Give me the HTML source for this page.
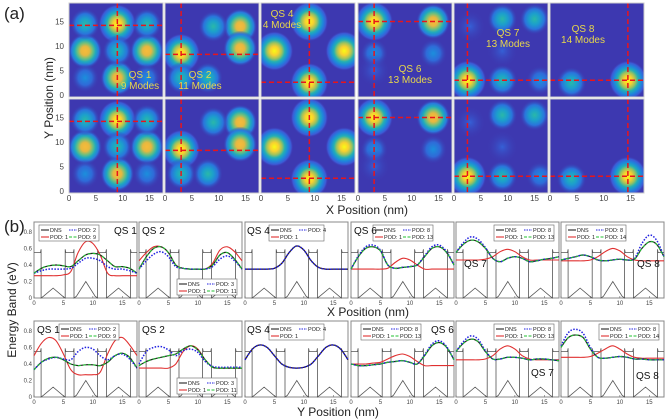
<!DOCTYPE html>
<html><head><meta charset="utf-8">
<style>
html,body{margin:0;padding:0;background:#fff;}
svg{display:block;font-family:"Liberation Sans",sans-serif;}
</style></head>
<body>
<svg id="fig" width="668" height="420" viewBox="0 0 668 420" xmlns="http://www.w3.org/2000/svg">
<defs>
<radialGradient id="g-hot"><stop offset="0" stop-color="#f9fb14"/><stop offset=".22" stop-color="#f8d030"/><stop offset=".4" stop-color="#9cc25e"/><stop offset=".55" stop-color="#22b0b4"/><stop offset=".72" stop-color="#1e86dc"/><stop offset=".88" stop-color="#3d5ad6"/><stop offset="1" stop-color="#3d38b0" stop-opacity="0"/></radialGradient>
<radialGradient id="g-warm"><stop offset="0" stop-color="#f7bb3a"/><stop offset=".25" stop-color="#e6b840"/><stop offset=".45" stop-color="#6cbf7e"/><stop offset=".62" stop-color="#1ea9be"/><stop offset=".8" stop-color="#2a7ade"/><stop offset="1" stop-color="#3d38b0" stop-opacity="0"/></radialGradient>
<radialGradient id="g-mid"><stop offset="0" stop-color="#2ab8a8"/><stop offset=".35" stop-color="#1c9fcc"/><stop offset=".65" stop-color="#2a74dc"/><stop offset="1" stop-color="#3d38b0" stop-opacity="0"/></radialGradient>
<radialGradient id="g-cool"><stop offset="0" stop-color="#1b8fdc"/><stop offset=".5" stop-color="#2f6ad8"/><stop offset="1" stop-color="#3d38b0" stop-opacity="0"/></radialGradient>
<radialGradient id="g-faint"><stop offset="0" stop-color="#3560d6"/><stop offset="1" stop-color="#3d38b0" stop-opacity="0"/></radialGradient>
</defs>
<g id="heat"></g>
<g id="lines"></g>
<text x="4" y="19" font-size="17" fill="#222">(a)</text>
<text x="4" y="232" font-size="17" fill="#222">(b)</text>
<text x="367" y="214" font-size="12" text-anchor="middle" fill="#222">X Position (nm)</text>
<text transform="translate(53,98) rotate(-90)" font-size="12" text-anchor="middle" fill="#222">Y Position (nm)</text>
<text x="368" y="316" font-size="12" text-anchor="middle" fill="#222">X Position (nm)</text>
<text x="338" y="416" font-size="12" text-anchor="middle" fill="#222">Y Position (nm)</text>
<text transform="translate(16,310) rotate(-90)" font-size="12" text-anchor="middle" fill="#222">Energy Band (eV)</text>
</svg>
<script>
// ---------- heatmap data ----------
const qsNames = ["QS 1","QS 2","QS 4","QS 6","QS 7","QS 8"];
const modeCounts = [9,11,4,13,13,14];
const blobsQS1 = [[9,14.5,"hot"],[3,9,"warm"],[14.5,9,"warm"],[9,3.5,"warm"],[3,14.5,"mid"],[14.5,14.5,"mid"],[9,9,"mid"],[3,3.5,"cool"],[14.5,3.5,"cool"]];
const blobsQS2 = [[3,8.5,"hot"],[3,3.5,"mid"],[8,3.5,"mid"],[14,14,"warm"],[14,9.5,"warm"],[9,14,"mid"]];
const blobsQS4 = [[9,15,"hot"],[9,2.5,"hot"],[2.5,9,"hot"],[15.5,9,"hot"]];
const blobsQS6 = [[3,15,"hot"],[14,15,"warm"],[3,8.5,"cool"],[14,8.5,"cool"],[3,5,"faint"]];
const blobsQS7 = [[2.5,3,"hot"],[9,15.5,"mid"],[15,15.5,"mid"],[9,3,"mid"],[3,14,"faint"],[16,3,"cool"],[9,9,"faint"]];
const blobsQS8 = [[14.5,3,"hot"],[4,2.5,"mid"]];
const crossX = [9,3,9,3,2.5,14.5];
const crossY = [14.2,8.3,2.6,15,3,3];
const heatTicks = [0,5,10,15];

// ---------- energy band data (x = 0..17.5, step 1.25) ----------
const xGrid = [0,1.25,2.5,3.75,5,6.25,7.5,8.75,10,11.25,12.5,13.75,15,16.25,17.5];
const dnsTop = [
 [0.30,0.36,0.39,0.40,0.39,0.38,0.45,0.52,0.54,0.52,0.45,0.38,0.38,0.36,0.30],
 [0.35,0.50,0.60,0.62,0.55,0.40,0.36,0.35,0.35,0.35,0.40,0.52,0.55,0.47,0.35],
 [0.35,0.35,0.35,0.35,0.36,0.42,0.55,0.63,0.58,0.45,0.37,0.35,0.35,0.35,0.35],
 [0.35,0.50,0.60,0.62,0.57,0.40,0.36,0.37,0.38,0.40,0.50,0.60,0.62,0.55,0.40],
 [0.55,0.65,0.70,0.68,0.60,0.48,0.44,0.48,0.50,0.48,0.44,0.45,0.47,0.48,0.50],
 [0.46,0.48,0.50,0.52,0.50,0.46,0.45,0.46,0.47,0.46,0.47,0.60,0.68,0.65,0.50]];
const podHighTop = dnsTop;
const podMidTop = [
 [0.30,0.33,0.35,0.35,0.35,0.36,0.42,0.48,0.48,0.45,0.38,0.35,0.35,0.33,0.30],
 [0.35,0.45,0.53,0.56,0.50,0.38,0.36,0.35,0.35,0.35,0.38,0.47,0.51,0.45,0.35],
 [0.35,0.35,0.35,0.35,0.36,0.42,0.55,0.63,0.58,0.45,0.37,0.35,0.35,0.35,0.35],
 [0.35,0.51,0.62,0.64,0.58,0.40,0.36,0.37,0.38,0.40,0.51,0.62,0.64,0.56,0.40],
 [0.55,0.67,0.74,0.71,0.61,0.48,0.44,0.48,0.50,0.48,0.44,0.45,0.47,0.48,0.50],
 [0.46,0.48,0.50,0.52,0.50,0.46,0.45,0.46,0.47,0.46,0.48,0.66,0.76,0.70,0.50]];
const pod1Top = [
 [0.27,0.27,0.27,0.27,0.28,0.32,0.55,0.68,0.66,0.52,0.30,0.27,0.27,0.27,0.27],
 [0.45,0.55,0.62,0.62,0.55,0.40,0.36,0.35,0.35,0.35,0.42,0.58,0.62,0.56,0.45],
 [0.35,0.35,0.35,0.35,0.36,0.42,0.55,0.63,0.58,0.45,0.37,0.35,0.35,0.35,0.35],
 [0.35,0.35,0.35,0.35,0.35,0.36,0.43,0.48,0.46,0.40,0.35,0.35,0.35,0.35,0.35],
 [0.46,0.46,0.46,0.46,0.47,0.50,0.56,0.59,0.56,0.50,0.46,0.46,0.46,0.46,0.46],
 [0.45,0.45,0.45,0.45,0.46,0.50,0.56,0.60,0.57,0.50,0.46,0.45,0.45,0.45,0.45]];
const dnsBot = [
 [0.33,0.42,0.47,0.48,0.45,0.40,0.38,0.39,0.39,0.38,0.42,0.50,0.53,0.48,0.35],
 [0.38,0.43,0.46,0.48,0.50,0.52,0.58,0.62,0.57,0.45,0.36,0.35,0.35,0.35,0.35],
 [0.45,0.58,0.63,0.60,0.50,0.40,0.36,0.35,0.36,0.40,0.50,0.60,0.63,0.58,0.45],
 [0.40,0.38,0.38,0.39,0.40,0.42,0.43,0.44,0.42,0.40,0.50,0.62,0.66,0.60,0.45],
 [0.55,0.65,0.70,0.67,0.55,0.46,0.46,0.48,0.48,0.47,0.45,0.46,0.46,0.45,0.44],
 [0.60,0.72,0.75,0.72,0.58,0.48,0.47,0.48,0.49,0.48,0.46,0.46,0.45,0.45,0.45]];
const podHighBot = dnsBot;
const podMidBot = [
 [0.33,0.42,0.46,0.48,0.46,0.45,0.55,0.60,0.58,0.50,0.45,0.50,0.52,0.46,0.35],
 [0.40,0.55,0.60,0.61,0.57,0.50,0.56,0.58,0.54,0.43,0.37,0.36,0.36,0.36,0.36],
 [0.45,0.58,0.63,0.60,0.50,0.40,0.36,0.35,0.36,0.40,0.50,0.60,0.63,0.58,0.45],
 [0.40,0.38,0.38,0.39,0.40,0.42,0.43,0.44,0.42,0.40,0.51,0.64,0.68,0.61,0.45],
 [0.55,0.67,0.74,0.70,0.56,0.46,0.46,0.48,0.48,0.47,0.45,0.46,0.46,0.45,0.44],
 [0.62,0.78,0.82,0.77,0.60,0.48,0.47,0.48,0.49,0.48,0.46,0.46,0.45,0.45,0.45]];
const pod1Bot = [
 [0.50,0.65,0.72,0.68,0.52,0.33,0.27,0.27,0.27,0.30,0.52,0.68,0.72,0.63,0.50],
 [0.35,0.35,0.35,0.35,0.35,0.40,0.55,0.62,0.58,0.45,0.36,0.35,0.35,0.35,0.35],
 [0.45,0.58,0.63,0.60,0.50,0.40,0.36,0.35,0.36,0.40,0.50,0.60,0.63,0.58,0.45],
 [0.40,0.40,0.40,0.41,0.42,0.46,0.50,0.52,0.49,0.43,0.38,0.38,0.38,0.38,0.38],
 [0.45,0.45,0.45,0.45,0.46,0.50,0.58,0.62,0.58,0.50,0.46,0.45,0.45,0.45,0.45],
 [0.48,0.48,0.48,0.48,0.49,0.53,0.58,0.62,0.58,0.52,0.48,0.47,0.47,0.47,0.47]];
const midPodNums = [2,3,4,8,8,8];
const highPodNums = [9,11,0,13,13,14];
const wallX = [1.2,5.3,6.8,10.8,12.3,16.4];
const barrierLevel = 0.55;
const tentHeight = [0.12,0.2,0.12];
const bandYTicks = [0,0.2,0.4,0.6,0.8];
const bandXTicks = [0,5,10,15];

// ---------- drawing ----------
const NS="http://www.w3.org/2000/svg";
function mk(tag,attrs,parent){const e=document.createElementNS(NS,tag);for(const k in attrs)e.setAttribute(k,attrs[k]);parent.appendChild(e);return e;}
const heat=document.getElementById('heat');
const heatCols=[69,165,261,358,454,550], heatRows=[3,99], HW=94, HH=94;
const allBlobs=[blobsQS1,blobsQS2,blobsQS4,blobsQS6,blobsQS7,blobsQS8];
const blobR={hot:19,warm:17,mid:15,cool:14,faint:16};
const hx=(c,v)=>heatCols[c]+v/17.5*HW;
const hy=(r,v)=>heatRows[r]+HH-2-v*4.9;
for(let r=0;r<2;r++)for(let c=0;c<6;c++){
  const g=mk('g',{},heat);
  
  
  mk('rect',{x:heatCols[c],y:heatRows[r],width:HW,height:HH,fill:'#3d38b0'},g);
  const clip='clip'+r+c;
  const cp=mk('clipPath',{id:clip},g);mk('rect',{x:heatCols[c],y:heatRows[r],width:HW,height:HH},cp);
  const bg=mk('g',{'clip-path':'url(#'+clip+')'},g);
  allBlobs[c].forEach(b=>{
    const s=mk('ellipse',{cx:hx(c,b[0]),cy:hy(r,b[1]),rx:blobR[b[2]],ry:blobR[b[2]]*1.05,fill:'url(#g-'+b[2]+')'},bg);
    
    
  });
  mk('line',{x1:hx(c,crossX[c]),x2:hx(c,crossX[c]),y1:heatRows[r],y2:heatRows[r]+HH,stroke:'#e8141c','stroke-width':1.5,'stroke-dasharray':'5 3'},bg);
  mk('line',{x1:heatCols[c],x2:heatCols[c]+HW,y1:hy(r,crossY[c]),y2:hy(r,crossY[c]),stroke:'#e8141c','stroke-width':1.5,'stroke-dasharray':'5 3'},bg);
  mk('rect',{x:heatCols[c],y:heatRows[r],width:HW,height:HH,fill:'none',stroke:'#ccc','stroke-width':1},g);
  if(r===1){heatTicks.forEach(t=>{const tx=mk('text',{x:hx(c,t),y:201,'font-size':8,'text-anchor':'middle',fill:'#444'},heat);tx.textContent=t;});}
  if(c===0){heatTicks.forEach(t=>{const tx=mk('text',{x:64,y:hy(r,t)+3,'font-size':8,'text-anchor':'end',fill:'#444'},heat);tx.textContent=t;});}
}
// heatmap labels
const heatLabelPos=[[140,78],[200,78],[282,17],[410,72],[508,36],[583,32]];
heatLabelPos.forEach((p,i)=>{
  const t1=mk('text',{x:p[0],y:p[1],'font-size':10,'text-anchor':'middle',fill:'#e8d84a'},heat);t1.textContent=qsNames[i];
  
  
  const t2=mk('text',{x:p[0],y:p[1]+11,'font-size':10,'text-anchor':'middle',fill:'#e8d84a'},heat);t2.textContent=modeCounts[i]+' Modes';
  
  
});

// band panels
const lines=document.getElementById('lines');
const bCols=[34,139,245,351,456,561], BW=103, bRows=[222,321], BH=76;
const bx=(c,v)=>bCols[c]+v/17.5*BW;
const by=(r,v)=>bRows[r]+BH-v/0.92*BH;
function smooth(c,r,ys){
  const p=xGrid.map((x,i)=>[bx(c,x),by(r,ys[i])]);
  let d='M'+p[0][0].toFixed(1)+','+p[0][1].toFixed(1);
  for(let i=0;i<p.length-1;i++){
    const p0=p[i-1]||p[i],p1=p[i],p2=p[i+1],p3=p[i+2]||p[i+1];
    const c1=[p1[0]+(p2[0]-p0[0])/6,p1[1]+(p2[1]-p0[1])/6],c2=[p2[0]-(p3[0]-p1[0])/6,p2[1]-(p3[1]-p1[1])/6];
    d+=' C'+c1[0].toFixed(1)+','+c1[1].toFixed(1)+' '+c2[0].toFixed(1)+','+c2[1].toFixed(1)+' '+p2[0].toFixed(1)+','+p2[1].toFixed(1);
  }
  return d;
}
const legendPos=[[[5,3],[38,57],[24,3],[22,3],[38,3],[5,3]],[[25,3],[38,57],[24,3],[10,3],[38,3],[38,3]]];
const labelPos=[[[80,12],[3,12],[2,12],[3,12],[8,45],[76,45]],[[3,12],[3,12],[2,12],[80,12],[75,55],[75,58]]];
for(let r=0;r<2;r++)for(let c=0;c<6;c++){
  const g=mk('g',{},lines);
  
  
  const X0=bCols[c],Y0=bRows[r];
  mk('rect',{x:X0,y:Y0,width:BW,height:BH,fill:'#fff',stroke:'#888','stroke-width':1},g);
  let pts=[[0,barrierLevel]];
  for(let w=0;w<3;w++){
    const a=wallX[w*2],b=wallX[w*2+1];
    pts.push([a-0.1,barrierLevel],[a,barrierLevel+0.04],[a,0],[a+0.4,0.02],[(a+b)/2,tentHeight[w]],[b-0.4,0.02],[b,0],[b,barrierLevel+0.04],[b+0.1,barrierLevel]);
  }
  pts.push([17.5,barrierLevel]);
  const pot=mk('polyline',{points:pts.map(p=>bx(c,p[0]).toFixed(1)+','+by(r,p[1]).toFixed(1)).join(' '),fill:'none',stroke:'#555','stroke-width':0.8},g);
  
  
  const series=[[(r?pod1Bot:pod1Top)[c],'#e03030','',1.1,'pod-1-curve'],[(r?dnsBot:dnsTop)[c],'#222','',1.2,'dns-curve'],[(r?podMidBot:podMidTop)[c],'#2020e0','1.5 1.5',1.5,'pod-mid-curve']];
  if(highPodNums[c]) series.push([(r?podHighBot:podHighTop)[c],'#20c030','3 2',1.1,'pod-full-curve']);
  series.forEach(s=>{
    const pth=mk('path',{d:smooth(c,r,s[0]),fill:'none',stroke:s[1],'stroke-width':s[3]},g);
    if(s[2])pth.setAttribute('stroke-dasharray',s[2]);
    
    
  });
  bandXTicks.forEach(t=>{mk('line',{x1:bx(c,t),x2:bx(c,t),y1:Y0+BH,y2:Y0+BH-2,stroke:'#666','stroke-width':0.6},g);
    const tx=mk('text',{x:bx(c,t),y:Y0+BH+7,'font-size':6,'text-anchor':'middle',fill:'#444'},g);tx.textContent=t;});
  if(c===0) bandYTicks.forEach(t=>{const tx=mk('text',{x:X0-2,y:by(r,t)+2,'font-size':6,'text-anchor':'end',fill:'#444'},g);tx.textContent=t;});
  const lp=legendPos[r][c], lx=X0+lp[0], ly=Y0+lp[1];
  const lg=mk('g',{},g);
  
  
  const lw=highPodNums[c]?60:55;
  mk('rect',{x:lx,y:ly,width:lw,height:16,fill:'#fff',stroke:'#666','stroke-width':0.6},lg);
  const ent=[[lx+2,ly+5,'#222','','DNS'],[lx+30,ly+5,'#2020e0','1.5 1','POD: '+midPodNums[c]],[lx+2,ly+12,'#e03030','','POD: 1']];
  if(highPodNums[c]) ent.push([lx+30,ly+12,'#20c030','3 1.5','POD: '+highPodNums[c]]);
  ent.forEach(e=>{
    const l=mk('line',{x1:e[0],x2:e[0]+8,y1:e[1],y2:e[1],stroke:e[2],'stroke-width':1.1},lg);
    if(e[3])l.setAttribute('stroke-dasharray',e[3]);
    const t=mk('text',{x:e[0]+9,y:e[1]+2,'font-size':5.5,fill:'#222'},lg);t.textContent=e[4];
  });
  const lb=labelPos[r][c];
  const qt=mk('text',{x:X0+lb[0],y:Y0+lb[1],'font-size':10,fill:'#111'},g);qt.textContent=qsNames[c];
  
  
}
</script>
</body></html>
